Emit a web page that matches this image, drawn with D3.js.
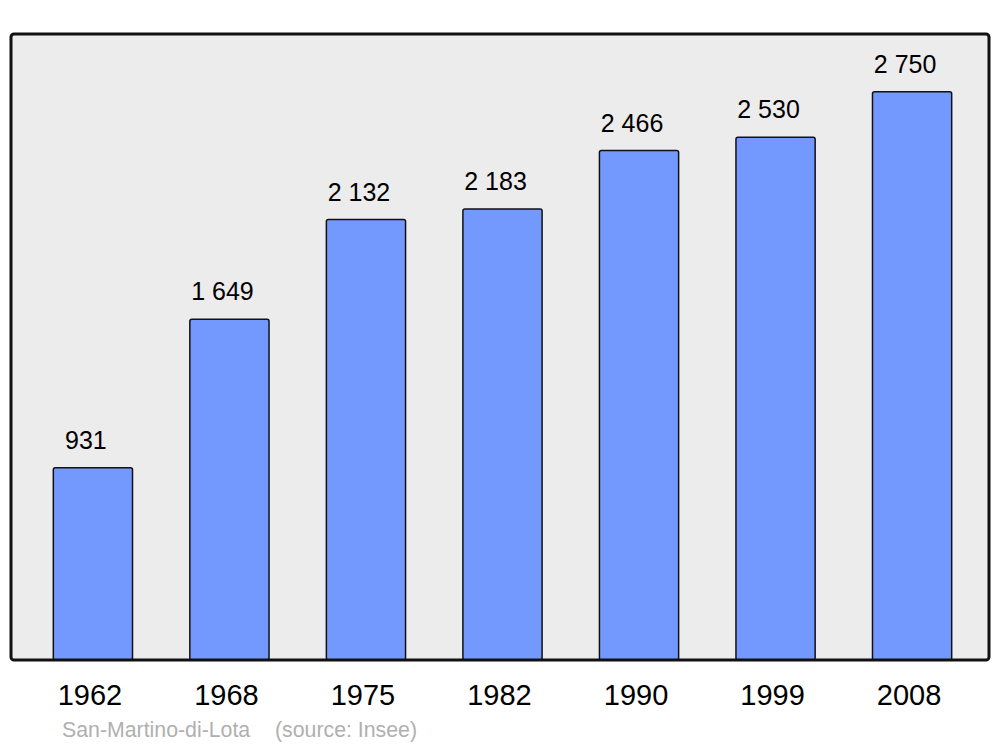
<!DOCTYPE html>
<html><head><meta charset="utf-8">
<script src="https://cdn.jsdelivr.net/npm/d3@7"></script>
<style>body{margin:0;background:#fff}svg{display:block}text{font-family:"Liberation Sans",Arial,sans-serif}</style>
</head><body>
<script>
const years = ["1962","1968","1975","1982","1990","1999","2008"];
const population = [931,1649,2132,2183,2466,2530,2750];
const placeName = "San-Martino-di-Lota";
const sourceText = "(source: Insee)";

const W=1000,H=747;
const svg=d3.select("body").append("svg").attr("width",W).attr("height",H);
const panel={x0:11,x1:989,y0:34,y1:660};
const x=d3.scaleBand().domain(years).range([11,994]).paddingInner(0.42).paddingOuter(0.31);
const y=d3.scaleLinear().domain([0,3030]).range([panel.y1,panel.y0]);
const fmt=d3.formatLocale({decimal:",",thousands:" ",grouping:[3],currency:["","€"]}).format(",d");

svg.append("rect").attr("x",panel.x0).attr("y",panel.y0).attr("width",panel.x1-panel.x0).attr("height",panel.y1-panel.y0)
  .attr("rx",3).attr("fill","#ececec");
const data=years.map((yr,i)=>({yr,v:population[i]}));
svg.selectAll("rect.bar").data(data).join("rect").attr("class","bar")
  .attr("x",d=>x(d.yr)).attr("width",x.bandwidth())
  .attr("y",d=>y(d.v)).attr("height",d=>y(0)-y(d.v))
  .attr("rx",2).attr("fill","#7399ff").attr("stroke","#111").attr("stroke-width",1.5);
svg.selectAll("text.val").data(data).join("text").attr("class","val")
  .attr("x",d=>x(d.yr)+x.bandwidth()/2-7).attr("y",d=>y(d.v)-19)
  .attr("text-anchor","middle").attr("font-size",25).attr("fill","#000").text(d=>fmt(d.v));
svg.append("rect").attr("x",panel.x0).attr("y",panel.y0).attr("width",panel.x1-panel.x0).attr("height",panel.y1-panel.y0)
  .attr("rx",3).attr("fill","none").attr("stroke","#111").attr("stroke-width",3);
svg.selectAll("text.yr").data(years).join("text").attr("class","yr")
  .attr("x",d=>x(d)+x.bandwidth()/2-3).attr("y",705)
  .attr("text-anchor","middle").attr("font-size",29).attr("fill","#000").text(d=>d);
svg.append("text").attr("x",62).attr("y",737).attr("font-size",21.3).attr("fill","#b0b0b0").text(placeName);
svg.append("text").attr("x",275).attr("y",737).attr("font-size",21.3).attr("fill","#b0b0b0").text(sourceText);
</script>
</body></html>
